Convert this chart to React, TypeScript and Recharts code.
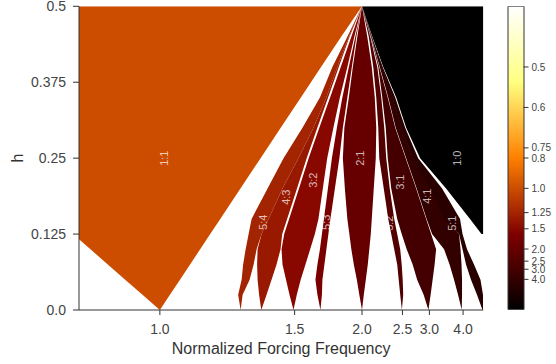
import { Area, Bar, ComposedChart, Label, ReferenceDot, XAxis, YAxis } from "recharts";

// forcing amplitude levels where the tongue edges were read
const hLevels = [0, 0.025, 0.05, 0.075, 0.1, 0.125, 0.15, 0.2, 0.25, 0.3, 0.35, 0.4, 0.45, 0.5];

// tongue edges as normalized forcing frequency at each h level (null = no locking there)
const lock11Left = [1.0, 0.9588, 0.921, 0.8859, 0.8535, 0.8233, 0.8233, 0.8233, 0.8233, 0.8233, 0.8233, 0.8233, 0.8233, 0.8233];
const lock11Right = [1.0, 1.0255, 1.0524, 1.0808, 1.1107, 1.1423, 1.1757, 1.2489, 1.3318, 1.4264, 1.5356, 1.6628, 1.8131, 2.0];
const lock54Left = [1.2497, 1.2401, 1.2535, 1.2594, 1.2693, 1.2813, 1.2935, 1.3632, 1.4407, 1.545, 1.6554, 1.7444, 1.8648, 2.0];
const lock54Right = [1.2497, 1.2574, 1.2853, 1.3019, 1.3145, 1.3362, 1.3677, 1.4355, 1.5218, 1.6126, 1.7005, 1.7828, 1.8777, 2.0];
const lock43Left = [1.3349, 1.3253, 1.3188, 1.3167, 1.3188, 1.3362, 1.3677, 1.4355, 1.5218, 1.6126, 1.7005, 1.7828, 1.8777, 2.0];
const lock43Right = [1.3349, 1.3586, 1.3817, 1.4057, 1.4255, 1.434, 1.4593, 1.5133, 1.5701, 1.638, 1.7127, 1.7938, 1.8838, 2.0];
const lock32Left = [1.4937, 1.472, 1.4536, 1.4355, 1.4305, 1.4442, 1.4699, 1.5246, 1.5823, 1.6513, 1.7273, 1.8098, 1.8997, 2.0];
const lock32Right = [1.4937, 1.5121, 1.5344, 1.5628, 1.5917, 1.6216, 1.6453, 1.6752, 1.7062, 1.7519, 1.8026, 1.8648, 1.9268, 2.0];
const lock53Left = [1.6588, 1.6386, 1.6255, 1.6386, 1.6554, 1.669, 1.6829, 1.7113, 1.7407, 1.7789, 1.8228, 1.8777, 1.936, 2.0];
const lock53Right = [1.6588, 1.669, 1.6724, 1.6864, 1.7005, 1.7149, 1.7295, 1.7634, 1.7986, 1.8269, 1.8648, 1.9042, 1.9453, 2.0];
const lock21Left = [2.0, 1.9737, 1.95, 1.9222, 1.8997, 1.8821, 1.8648, 1.8436, 1.8269, 1.8394, 1.8777, 1.9132, 1.9547, 2.0];
const lock21Right = [2.0, 2.0179, 2.0382, 2.0589, 2.0747, 2.0908, 2.1016, 2.1236, 2.1461, 2.1518, 2.1348, 2.1016, 2.0537, 2.0];
const lock52Left = [2.4917, 2.4659, 2.4436, 2.4217, 2.3791, 2.3379, 2.2982, 2.241, 2.1866, 2.1749, 2.1518, 2.1181, 2.0694, 2.0];
const lock52Right = [2.4917, 2.5118, 2.504, 2.4886, 2.4659, 2.4217, 2.3791, 2.3179, 2.2724, 2.2472, 2.2105, 2.1633, 2.0854, 2.0];
const lock31Left = [2.9787, 2.8772, 2.7504, 2.6689, 2.5674, 2.4886, 2.4217, 2.3379, 2.2917, 2.2661, 2.2226, 2.1749, 2.0908, 2.0];
const lock31Right = [2.9787, 3.0276, 3.0735, 3.1209, 3.1573, 3.039, 2.9292, 2.7318, 2.5513, 2.3932, 2.2917, 2.1866, 2.094, 2.0];
const lock41Left = [3.9474, 3.8102, 3.6721, 3.5283, 3.3671, 3.0619, 2.9398, 2.7411, 2.5593, 2.4002, 2.2982, 2.1925, 2.0962, 2.0];
const lock41Right = [3.9474, 3.959, 3.959, 3.9397, 3.9018, 3.8463, 3.424, 3.0164, 2.6777, 2.4886, 2.3583, 2.2226, 2.1016, 2.0];
const lock51Left = [4.9499, 4.6384, 4.3405, 4.1199, 3.9784, 3.8463, 3.3953, 2.9941, 2.6689, 2.481, 2.3515, 2.2165, 2.0962, 2.0];
const lock51Right = [4.9803, 4.9803, 4.8319, 4.4845, 4.1622, 3.9784, 3.8831, 3.3121, 2.7691, 2.5433, 2.3932, 2.2287, 2.1016, 2.0];
const lock10Left = [null, null, null, null, null, 4.8902, 4.2945, 3.424, 2.8075, 2.5593, 2.4074, 2.2348, 2.1071, 2.0];
const lock10Right = [null, null, null, null, null, 5.0, 5.0, 5.0, 5.0, 5.0, 5.0, 5.0, 5.0, 5.0];

const tongueNames = ["1:1", "5:4", "4:3", "3:2", "5:3", "2:1", "5:2", "3:1", "4:1", "5:1", "1:0"];
const tongueLeft = [lock11Left, lock54Left, lock43Left, lock32Left, lock53Left, lock21Left, lock52Left, lock31Left, lock41Left, lock51Left, lock10Left];
const tongueRight = [lock11Right, lock54Right, lock43Right, lock32Right, lock53Right, lock21Right, lock52Right, lock31Right, lock41Right, lock51Right, lock10Right];

// where the ratio labels sit
const labelText = ["1:1", "5:4", "4:3", "3:2", "5:3", "2:1", "5:2", "3:1", "4:1", "5:1", "1:0"];
const labelFreq = [1.01, 1.3406, 1.451, 1.6126, 1.7005, 1.9834, 2.3113, 2.4659, 2.9505, 3.6068, 3.7747];
const labelH = [0.25, 0.1445, 0.1857, 0.2137, 0.1445, 0.25, 0.1429, 0.2104, 0.1874, 0.1429, 0.25];

const freqTicks = [1.0, 1.5, 2.0, 2.5, 3.0, 4.0];
const hTicks = [0, 0.125, 0.25, 0.375, 0.5];
const hTickLabels = ["0.0", "0.125", "0.25", "0.375", "0.5"];

const colorbarValues = [0.5, 0.6, 0.75, 0.8, 1.0, 1.25, 1.5, 2.0, 2.5, 3.0, 4.0];
const colorbarLabels = ["0.5", "0.6", "0.75", "0.8", "1.0", "1.25", "1.5", "2.0", "2.5", "3.0", "4.0"];
const colorbarMax = 2.5; // colour scale runs over 1/ratio from 0 to 2.5

const FONT = '"Liberation Sans", Arial, sans-serif';

// matplotlib afmhot
function afmhot(t: number) {
  const c = (v: number) => Math.round(255 * Math.min(1, Math.max(0, v)));
  return `rgb(${c(2 * t)},${c(2 * t - 0.5)},${c(2 * t - 1)})`;
}

function ratioColor(name: string) {
  const [p, q] = name.split(":").map(Number);
  return afmhot(q / p / colorbarMax);
}

const rows = hLevels.map((h, i) => {
  const row: Record<string, unknown> = { h };
  tongueNames.forEach((_, k) => {
    const l = tongueLeft[k][i];
    const r = tongueRight[k][i];
    row[`t${k}`] = l == null || r == null ? null : [1 / l, 1 / r];
  });
  return row;
});

const colorbarData = [{ name: "ratio", span: [0, colorbarMax] }];

function fmtFreq(v: number) {
  return (1 / v).toFixed(1);
}

function fmtH(v: number) {
  const k = hTicks.findIndex((t) => Math.abs(t - v) < 1e-9);
  return k >= 0 ? hTickLabels[k] : String(v);
}

function fmtColorbar(v: number) {
  const k = colorbarValues.findIndex((c) => Math.abs(1 / c - v) < 1e-9);
  return k >= 0 ? colorbarLabels[k] : "";
}

const tickStyle = { fill: "#444", fontSize: 14, fontFamily: FONT };

function HLabel(props: any) {
  const vb = props.viewBox;
  const cx = vb.x + 18;
  const cy = vb.y + vb.height / 2;
  return (
    <text x={cx} y={cy} transform={`rotate(-90 ${cx} ${cy})`} textAnchor="middle" dominantBaseline="central" fontSize={16} fill="#333" fontFamily={FONT}>
      h
    </text>
  );
}

function MainChart() {
  return (
    <ComposedChart
      layout="vertical"
      width={556}
      height={364}
      data={rows}
      margin={{ top: 6.3, right: 72.7, bottom: 0, left: 0 }}
    >
      <XAxis
        xAxisId="freq"
        type="number"
        domain={[0.2, 1.2]}
        reversed
        allowDataOverflow
        ticks={freqTicks.map((f) => 1 / f)}
        interval={0}
        tickFormatter={fmtFreq}
        height={54}
        tickSize={5}
        tickMargin={9}
        stroke="#333"
        tick={tickStyle}
      >
        <Label value="Normalized Forcing Frequency" position="insideBottom" offset={10.5} fill="#333" fontSize={16} fontFamily={FONT} />
      </XAxis>
      <XAxis
        xAxisId="freqTop"
        orientation="top"
        type="number"
        domain={[0.2, 1.2]}
        reversed
        allowDataOverflow
        ticks={freqTicks.map((f) => 1 / f)}
        interval={0}
        tickFormatter={() => ""}
        height={0}
        tickSize={5}
        stroke="#333"
      />
      <YAxis
        yAxisId="h"
        type="number"
        dataKey="h"
        domain={[0, 0.5]}
        reversed
        allowDataOverflow
        ticks={hTicks}
        interval={0}
        tickFormatter={fmtH}
        width={79}
        tickSize={6}
        tickMargin={7}
        stroke="#333"
        tick={tickStyle}
      >
        <Label content={HLabel} />
      </YAxis>
      <YAxis
        yAxisId="hRight"
        orientation="right"
        type="number"
        domain={[0, 0.5]}
        reversed
        allowDataOverflow
        ticks={hTicks}
        interval={0}
        tickFormatter={() => ""}
        width={0}
        tickSize={5}
        stroke="#333"
      />
      {tongueNames.map((name, k) => (
        <Area
          key={name}
          xAxisId="freq"
          yAxisId="h"
          dataKey={`t${k}`}
          type="linear"
          fill={ratioColor(name)}
          fillOpacity={1}
          stroke="none"
          isAnimationActive={false}
        />
      ))}
      {labelText.map((txt, k) => (
        <ReferenceDot
          key={txt}
          xAxisId="freq"
          yAxisId="h"
          x={1 / labelFreq[k]}
          y={labelH[k]}
          r={0}
          shape={(p: any) => (
            <text
              x={p.cx}
              y={p.cy}
              transform={`rotate(-90 ${p.cx} ${p.cy})`}
              textAnchor="middle"
              dominantBaseline="central"
              fontSize={11}
              fill="#fff"
              fillOpacity={0.72}
              fontFamily={FONT}
            >
              {txt}
            </text>
          )}
        />
      ))}
    </ComposedChart>
  );
}

function Colorbar() {
  const stops = [0, 0.25, 0.5, 0.75, 1];
  return (
    <ComposedChart
      width={66}
      height={364}
      data={colorbarData}
      margin={{ top: 6.3, right: 0, bottom: 54.3, left: 18 }}
      barCategoryGap={0}
    >
      <defs>
        <linearGradient id="afmhotBar" x1="0" y1="0" x2="0" y2="1">
          {stops.map((s) => (
            <stop key={s} offset={s} stopColor={afmhot(1 - s)} />
          ))}
        </linearGradient>
      </defs>
      <XAxis dataKey="name" hide />
      <YAxis
        orientation="right"
        type="number"
        domain={[0, colorbarMax]}
        allowDataOverflow
        ticks={colorbarValues.map((v) => 1 / v)}
        interval={0}
        tickFormatter={fmtColorbar}
        width={32.5}
        axisLine={false}
        tickSize={5}
        tickMargin={3}
        stroke="#333"
        tick={{ fill: "#444", fontSize: 10, fontFamily: FONT }}
      />
      <Bar dataKey="span" fill="url(#afmhotBar)" stroke="#333" strokeWidth={1} isAnimationActive={false} />
    </ComposedChart>
  );
}

export default function App() {
  return (
    <div
      style={{
        position: "absolute",
        left: 0,
        top: 0,
        width: 556,
        height: 364,
        background: "#fff",
        fontFamily: FONT,
      }}
    >
      <div style={{ position: "absolute", left: 0, top: 0 }}>
        <MainChart />
      </div>
      <div style={{ position: "absolute", left: 490, top: 0 }}>
        <Colorbar />
      </div>
    </div>
  );
}
